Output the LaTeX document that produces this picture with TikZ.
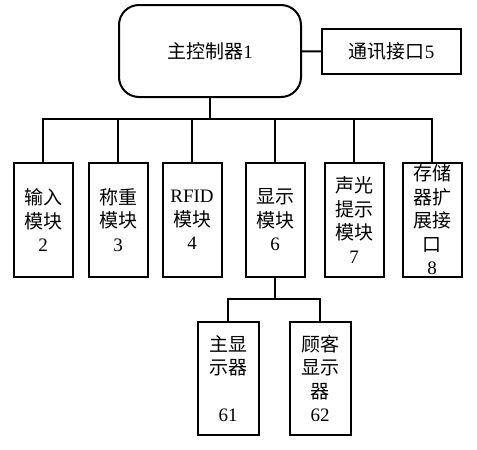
\documentclass[tikz,border=0pt]{standalone}
\usepackage{fontspec}
\setmainfont{Noto Sans CJK SC}
\newfontfamily\lat{Liberation Serif}
\usepackage{tikz}
\usetikzlibrary{positioning}

\begin{document}
\begin{tikzpicture}[
        x=1pt, y=-1pt,
        line width=2pt,
        ctrl/.style={draw, rounded corners=20pt, minimum width=182pt, minimum height=92pt, font=\fontsize{19}{24}\selectfont},
        comm/.style={draw, minimum width=139pt, minimum height=45pt, font=\fontsize{19}{24}\selectfont},
        module/.style={draw, minimum width=59pt, minimum height=114pt, inner sep=0pt, align=center, font=\fontsize{19}{23.5}\selectfont},
        screen/.style={module, minimum width=61pt, minimum height=113pt}
    ]
        \useasboundingbox (0,0) rectangle (477,450);

        \node[ctrl] (ctrl) at (210,51) {主控制器\lat{1}};
        \node[comm] (comm) at (391.5,51.5) {通讯接口\lat{5}};

        \node[module] (m2) at (43,220) {输入\\模块\\\lat{2}};
        \node[module] (m3) at (118,220) {称重\\模块\\\lat{3}};
        \node[module] (m4) at (192,220) {\lat{RFID}\\模块\\\lat{4}};
        \node[module] (m6) at (275,220) {显示\\模块\\\lat{6}};
        \node[module] (m7) at (354,220) {声光\\提示\\模块\\\lat{7}};
        \node[module] (m8) at (432,220) {存储\\器扩\\展接\\口\\\lat{8}};

        \node[screen] (d61) at (228,378.5) {主显\\示器\\\\\lat{61}};
        \node[screen] (d62) at (320,378.5) {顾客\\显示\\器\\\lat{62}};

        \draw (ctrl) -- (comm);
        \foreach \m in {m2,m3,m4,m6,m7,m8}
            \draw (ctrl.south) -- ++(0,21) -| (\m.north);
        \foreach \d in {d61,d62}
            \draw (m6.south) -- ++(0,21) -| (\d.north);
    \end{tikzpicture}
\end{document}
